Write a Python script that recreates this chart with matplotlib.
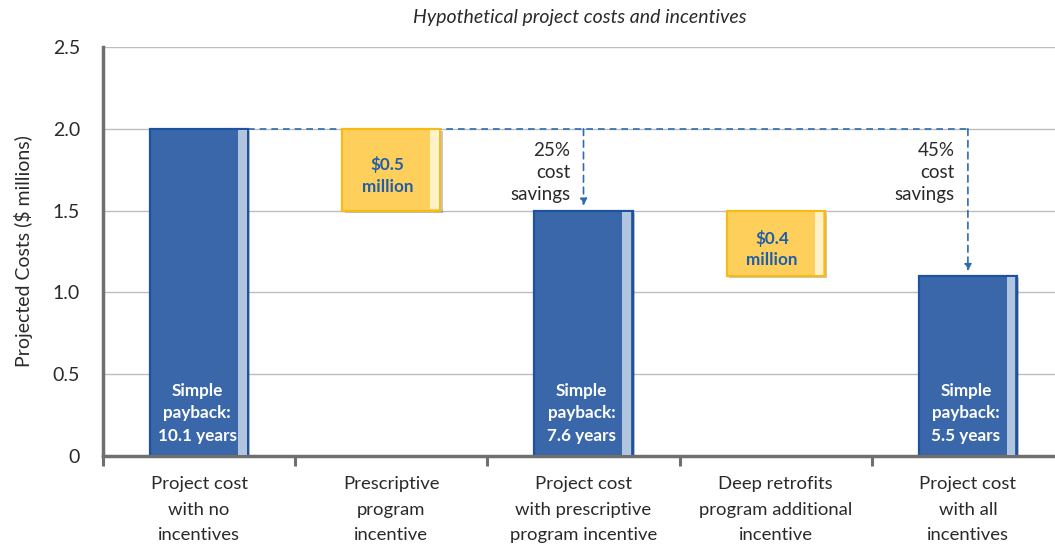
import matplotlib
matplotlib.use("Agg")
import matplotlib.pyplot as plt
from matplotlib.patches import Rectangle

plt.rcParams['font.family'] = ['Lato', 'DejaVu Sans']

categories = ["Project cost\nwith no\nincentives",
              "Prescriptive\nprogram\nincentive",
              "Project cost\nwith prescriptive\nprogram incentive",
              "Deep retrofits\nprogram additional\nincentive",
              "Project cost\nwith all\nincentives"]
bar_bottoms = [0.0, 1.5, 0.0, 1.1, 0.0]
bar_heights = [2.0, 0.5, 1.5, 0.4, 1.1]
bar_kinds = ["total", "incentive", "total", "incentive", "total"]
bar_labels = ["Simple\npayback:\n10.1 years", "$0.5\nmillion",
              "Simple\npayback:\n7.6 years", "$0.4\nmillion",
              "Simple\npayback:\n5.5 years"]
savings_idx = [2, 4]
savings_labels = ["25%\ncost\nsavings", "45%\ncost\nsavings"]
yticks = [0, 0.5, 1.0, 1.5, 2.0, 2.5]
ytick_labels = ["0", "0.5", "1.0", "1.5", "2.0", "2.5"]

W, H = 1055, 546
fig = plt.figure(figsize=(W / 100, H / 100), dpi=100)
ax = fig.add_axes([103 / W, 1 - 456 / H, (1064 - 103) / W, (456 - 47) / H])
ax.set_xlim(-0.5, len(categories) - 0.5)
ax.set_ylim(0, 2.5)

grid_c = "#bdbdbd"
for y in yticks[1:]:
    ax.axhline(y, color=grid_c, lw=1.0, zorder=0)

bw = 0.51
strip_w = 0.045
colors = {"total": ("#3a67aa", "#1c52a0", "#b3c4df"),
          "incentive": ("#ffcf5c", "#f7bb16", "#fff1c8")}
txt = "#2a2a2a"
for i, (b, h, k, lab) in enumerate(zip(bar_bottoms, bar_heights, bar_kinds, bar_labels)):
    face, edge, strip = colors[k]
    x0 = i - bw / 2
    # soft shadow
    ax.add_patch(Rectangle((x0 + 0.012, b - 0.012), bw, h, facecolor="#000000",
                           alpha=0.22, lw=0, zorder=1))
    ax.add_patch(Rectangle((x0, b), bw, h, facecolor=face, edgecolor=edge,
                           lw=1.6, zorder=2))
    ax.add_patch(Rectangle((x0 + bw - strip_w - 0.008, b + 0.008), strip_w, h - 0.016,
                           facecolor=strip, lw=0, zorder=3))
    if k == "total":
        ax.text(i - 0.01, 0.26, lab, ha="center", va="center", color="white",
                fontsize=12.3, fontweight="bold", linespacing=1.5, zorder=4)
    else:
        ax.text(i - 0.02, b + h / 2 - 0.035, lab, ha="center", va="center",
                color="#1f5fa8", fontsize=12.3, fontweight="bold",
                linespacing=1.45, zorder=4)

# dashed reference line at starting cost
dash_c = "#2e6cb0"
start = bar_bottoms[0] + bar_heights[0]
ax.plot([0 + bw / 2, savings_idx[-1]], [start, start], ls=(0, (4, 3)),
        color=dash_c, lw=1.2, zorder=1.5)
for idx, lab in zip(savings_idx, savings_labels):
    top = bar_bottoms[idx] + bar_heights[idx]
    ax.annotate("", xy=(idx, top + 0.03), xytext=(idx, start),
                arrowprops=dict(arrowstyle="-|>", ls=(0, (4, 3)), color=dash_c,
                                lw=1.2, mutation_scale=10, shrinkA=0, shrinkB=0),
                zorder=3)
    ax.text(idx - 0.07, 1.735, lab, ha="right", va="center", color=txt,
            fontsize=13.5, linespacing=1.35)

ax.set_yticks(yticks)
ax.set_yticklabels(ytick_labels, fontsize=14, color=txt)
ax.set_yticks([0, 2.5], minor=True)
ax.tick_params(axis="y", which="major", length=0, pad=16.5)
ax.tick_params(axis="y", which="minor", length=9.5, width=2.2, color="#6f6f6f",
               direction="out")
ax.set_xticks([i + 0.5 for i in range(-1, len(categories))])
ax.set_xticklabels([])
ax.tick_params(axis="x", length=7.5, width=2.2, color="#6f6f6f", direction="out")
for i, c in enumerate(categories):
    ax.text(i, -0.125, c, ha="center", va="top", fontsize=13.3, color=txt,
            linespacing=1.72, transform=ax.transData, clip_on=False)

for s in ["top", "right"]:
    ax.spines[s].set_visible(False)
for s in ["left", "bottom"]:
    ax.spines[s].set_color("#6f6f6f")
    ax.spines[s].set_linewidth(2.5)

ax.set_ylabel("Projected Costs ($ millions)", fontsize=14, color=txt, labelpad=14)
fig.text(580 / W, 1 - 18 / H, "Hypothetical project costs and incentives",
         ha="center", va="center", fontsize=14, style="italic", color=txt)

fig.savefig("out.png", dpi=100)
